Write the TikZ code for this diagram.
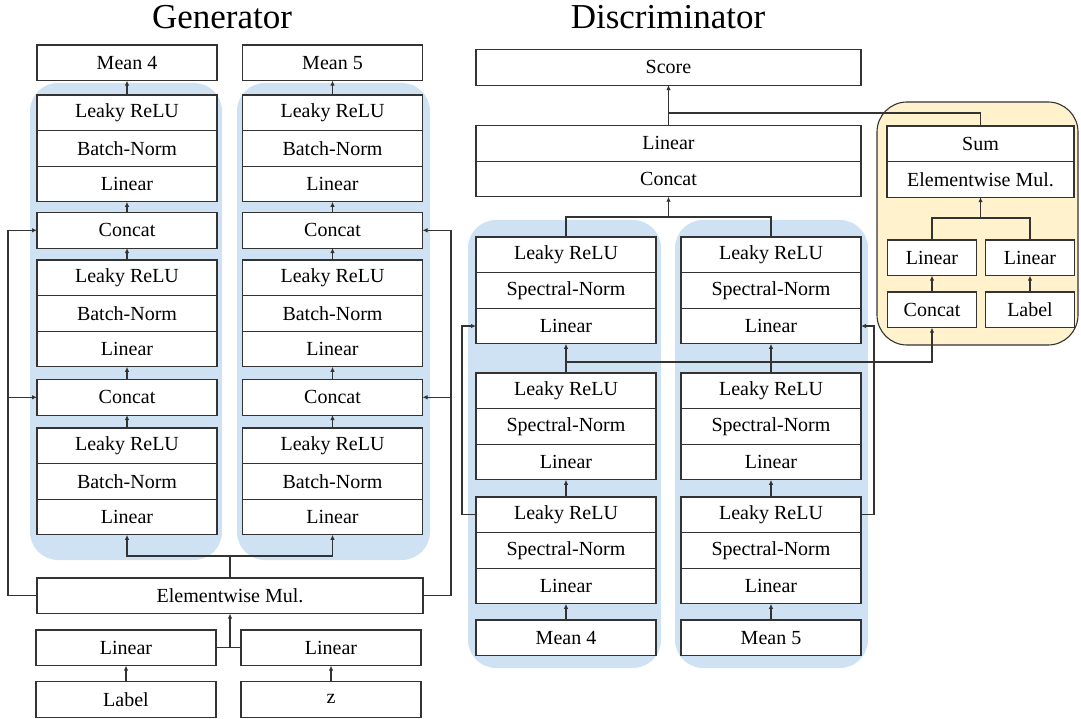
\documentclass[tikz,border=0pt]{standalone}
\usepackage{fontspec}
\setmainfont{Liberation Serif}
\usetikzlibrary{positioning,arrows.meta}

\definecolor{ganblue}{HTML}{CFE2F3}
\definecolor{ganyellow}{HTML}{FFF2CC}
\definecolor{edge}{HTML}{333333}

\tikzset{
  layer/.style={draw=edge, line width=1.1pt, fill=white, minimum height=35.6pt,
    inner sep=0pt, outer sep=0pt, font=\fontsize{20}{24}\selectfont},
  bigbox/.style={layer, minimum width=180pt},
  halfbox/.style={layer, minimum width=89.5pt},
  fullbox/.style={layer, minimum width=385pt},
  heading/.style={font=\fontsize{35}{40}\selectfont},
  wire/.style={draw=edge, line width=1.1pt},
  flow/.style={wire, ->},
  trunk/.style={draw=edge, line width=1.8pt},
}

\begin{document}
\begin{tikzpicture}[>={Latex[length=5pt,width=4.5pt]}, x=1pt, y=-1pt]
    \useasboundingbox (0,0) rectangle (1081,719);

    % backgrounds
    \fill[ganblue, rounded corners=28pt] (30,83) rectangle (222,560);
    \fill[ganblue, rounded corners=28pt] (237,83) rectangle (430,560);
    \fill[ganblue, rounded corners=28pt] (468,220) rectangle (661,668);
    \fill[ganblue, rounded corners=28pt] (675,220) rectangle (868,668);
    \filldraw[fill=ganyellow, draw=edge, line width=1.1pt, rounded corners=30pt] (877,102) rectangle (1078,345);

    \node[heading] (gentitle) at (222,17) {Generator};
    \node[heading] (distitle) at (668,17) {Discriminator};

    % generator
    \node[bigbox, anchor=north] (gmean4) at (127,45) {Mean 4};
    \node[bigbox, anchor=north] (gmean5) at (332.5,45) {Mean 5};

    \node[bigbox, anchor=north] (glrelu1L) at (127,95) {Leaky ReLU};
    \node[bigbox, below=0pt of glrelu1L] (gbn1L) {Batch-Norm};
    \node[bigbox, below=0pt of gbn1L] (glin1L) {Linear};
    \node[bigbox, anchor=north] (gcat1L) at (127,212.5) {Concat};
    \node[bigbox, anchor=north] (glrelu2L) at (127,260) {Leaky ReLU};
    \node[bigbox, below=0pt of glrelu2L] (gbn2L) {Batch-Norm};
    \node[bigbox, below=0pt of gbn2L] (glin2L) {Linear};
    \node[bigbox, anchor=north] (gcat2L) at (127,379.5) {Concat};
    \node[bigbox, anchor=north] (glrelu3L) at (127,428) {Leaky ReLU};
    \node[bigbox, below=0pt of glrelu3L] (gbn3L) {Batch-Norm};
    \node[bigbox, below=0pt of gbn3L] (glin3L) {Linear};

    \node[bigbox, anchor=north] (glrelu1R) at (332.5,95) {Leaky ReLU};
    \node[bigbox, below=0pt of glrelu1R] (gbn1R) {Batch-Norm};
    \node[bigbox, below=0pt of gbn1R] (glin1R) {Linear};
    \node[bigbox, anchor=north] (gcat1R) at (332.5,212.5) {Concat};
    \node[bigbox, anchor=north] (glrelu2R) at (332.5,260) {Leaky ReLU};
    \node[bigbox, below=0pt of glrelu2R] (gbn2R) {Batch-Norm};
    \node[bigbox, below=0pt of gbn2R] (glin2R) {Linear};
    \node[bigbox, anchor=north] (gcat2R) at (332.5,379.5) {Concat};
    \node[bigbox, anchor=north] (glrelu3R) at (332.5,428) {Leaky ReLU};
    \node[bigbox, below=0pt of glrelu3R] (gbn3R) {Batch-Norm};
    \node[bigbox, below=0pt of gbn3R] (glin3R) {Linear};

    \node[bigbox, minimum width=386pt, anchor=north] (gmul) at (230,578) {Elementwise Mul.};
    \node[bigbox, anchor=north] (glinlabel) at (126,630) {Linear};
    \node[bigbox, anchor=north] (glinz) at (331,630) {Linear};
    \node[bigbox, anchor=north] (glabel) at (126,681.5) {Label};
    \node[bigbox, anchor=north] (gz) at (331,681.5) {z};

    \draw[flow] (glrelu1L.north) -- (gmean4.south);
    \draw[flow] (gcat1L.north) -- (glin1L.south);
    \draw[flow] (glrelu2L.north) -- (gcat1L.south);
    \draw[flow] (gcat2L.north) -- (glin2L.south);
    \draw[flow] (glrelu3L.north) -- (gcat2L.south);
    \draw[flow] (glrelu1R.north) -- (gmean5.south);
    \draw[flow] (gcat1R.north) -- (glin1R.south);
    \draw[flow] (glrelu2R.north) -- (gcat1R.south);
    \draw[flow] (gcat2R.north) -- (glin2R.south);
    \draw[flow] (glrelu3R.north) -- (gcat2R.south);

    \draw[flow] (glabel.north) -- (glinlabel.south);
    \draw[flow] (gz.north) -- (glinz.south);
    \draw[wire] (glinlabel.east) -- (glinz.west);
    \draw[trunk, ->] (gmul.south |- glinlabel.east) -- (gmul.south);

    \coordinate (gsplit) at (230,556);
    \draw[trunk] (gmul.north) -- (gsplit);
    \draw[flow] (gsplit) -| (glin3L.south);
    \draw[flow] (gsplit) -| (glin3R.south);

    \coordinate (gskipL) at (8,595.8);
    \coordinate (gskipR) at (451,595.8);
    \draw[flow] (gmul.west) -- (gskipL) |- (gcat1L.west);
    \draw[flow] (gskipL) |- (gcat2L.west);
    \draw[flow] (gmul.east) -- (gskipR) |- (gcat1R.east);
    \draw[flow] (gskipR) |- (gcat2R.east);

    % discriminator
    \node[fullbox, anchor=north] (dscore) at (668.5,49.5) {Score};
    \node[fullbox, anchor=north] (dlin) at (668.5,125.5) {Linear};
    \node[fullbox, below=0pt of dlin] (dcat) {Concat};

    \node[bigbox, anchor=north] (dlrelu1L) at (566,237) {Leaky ReLU};
    \node[bigbox, below=0pt of dlrelu1L] (dsn1L) {Spectral-Norm};
    \node[bigbox, below=0pt of dsn1L] (dlin1L) {Linear};
    \node[bigbox, anchor=north] (dlrelu2L) at (566,373) {Leaky ReLU};
    \node[bigbox, below=0pt of dlrelu2L] (dsn2L) {Spectral-Norm};
    \node[bigbox, below=0pt of dsn2L] (dlin2L) {Linear};
    \node[bigbox, anchor=north] (dlrelu3L) at (566,497) {Leaky ReLU};
    \node[bigbox, below=0pt of dlrelu3L] (dsn3L) {Spectral-Norm};
    \node[bigbox, below=0pt of dsn3L] (dlin3L) {Linear};
    \node[bigbox, anchor=north] (dmean4) at (566,620) {Mean 4};

    \node[bigbox, anchor=north] (dlrelu1R) at (771,237) {Leaky ReLU};
    \node[bigbox, below=0pt of dlrelu1R] (dsn1R) {Spectral-Norm};
    \node[bigbox, below=0pt of dsn1R] (dlin1R) {Linear};
    \node[bigbox, anchor=north] (dlrelu2R) at (771,373) {Leaky ReLU};
    \node[bigbox, below=0pt of dlrelu2R] (dsn2R) {Spectral-Norm};
    \node[bigbox, below=0pt of dsn2R] (dlin2R) {Linear};
    \node[bigbox, anchor=north] (dlrelu3R) at (771,497) {Leaky ReLU};
    \node[bigbox, below=0pt of dlrelu3R] (dsn3R) {Spectral-Norm};
    \node[bigbox, below=0pt of dsn3R] (dlin3R) {Linear};
    \node[bigbox, anchor=north] (dmean5) at (771,620) {Mean 5};

    % projection head
    \node[halfbox, minimum width=187pt, anchor=north] (ysum) at (980.5,126) {Sum};
    \node[halfbox, minimum width=187pt, below=0pt of ysum] (ymul) {Elementwise Mul.};
    \node[halfbox, anchor=north] (ylinA) at (932,240) {Linear};
    \node[halfbox, anchor=north] (ylinB) at (1030,240) {Linear};
    \node[halfbox, anchor=north] (ycat) at (932,292) {Concat};
    \node[halfbox, anchor=north] (ylabel) at (1030,292) {Label};

    \draw[flow] (dmean4.north) -- (dlin3L.south);
    \draw[flow] (dlrelu3L.north) -- (dlin2L.south);
    \draw[flow] (dlrelu2L.north) -- (dlin1L.south);
    \draw[flow] (dmean5.north) -- (dlin3R.south);
    \draw[flow] (dlrelu3R.north) -- (dlin2R.south);
    \draw[flow] (dlrelu2R.north) -- (dlin1R.south);

    \coordinate (dskipL) at (462,420);
    \coordinate (dskipR) at (874,420);
    \draw[flow] (dlrelu3L.west) -| (dskipL) |- (dlin1L.west);
    \draw[flow] (dlrelu3R.east) -| (dskipR) |- (dlin1R.east);

    \coordinate (dproj) at (932,362);
    \draw[flow] (dlrelu2L.north |- dproj) -- (dproj) -- (ycat.south);

    \coordinate (dmerge) at (668.5,217);
    \draw[wire] (dlrelu1L.north) |- (dmerge) -| (dlrelu1R.north);
    \draw[trunk, ->] (dmerge) -- (dcat.south);

    \coordinate (dsumup) at (668.5,113);
    \draw[trunk, ->] (dlin.north) -- (dscore.south);
    \draw[wire] (ysum.north) |- (dsumup);

    \draw[flow] (ycat.north) -- (ylinA.south);
    \draw[flow] (ylabel.north) -- (ylinB.south);
    \coordinate (ymerge) at (980.5,218);
    \draw[wire] (ylinA.north) |- (ymerge) -| (ylinB.north);
    \draw[trunk, ->] (ymerge) -- (ymul.south);
\end{tikzpicture}
\end{document}
